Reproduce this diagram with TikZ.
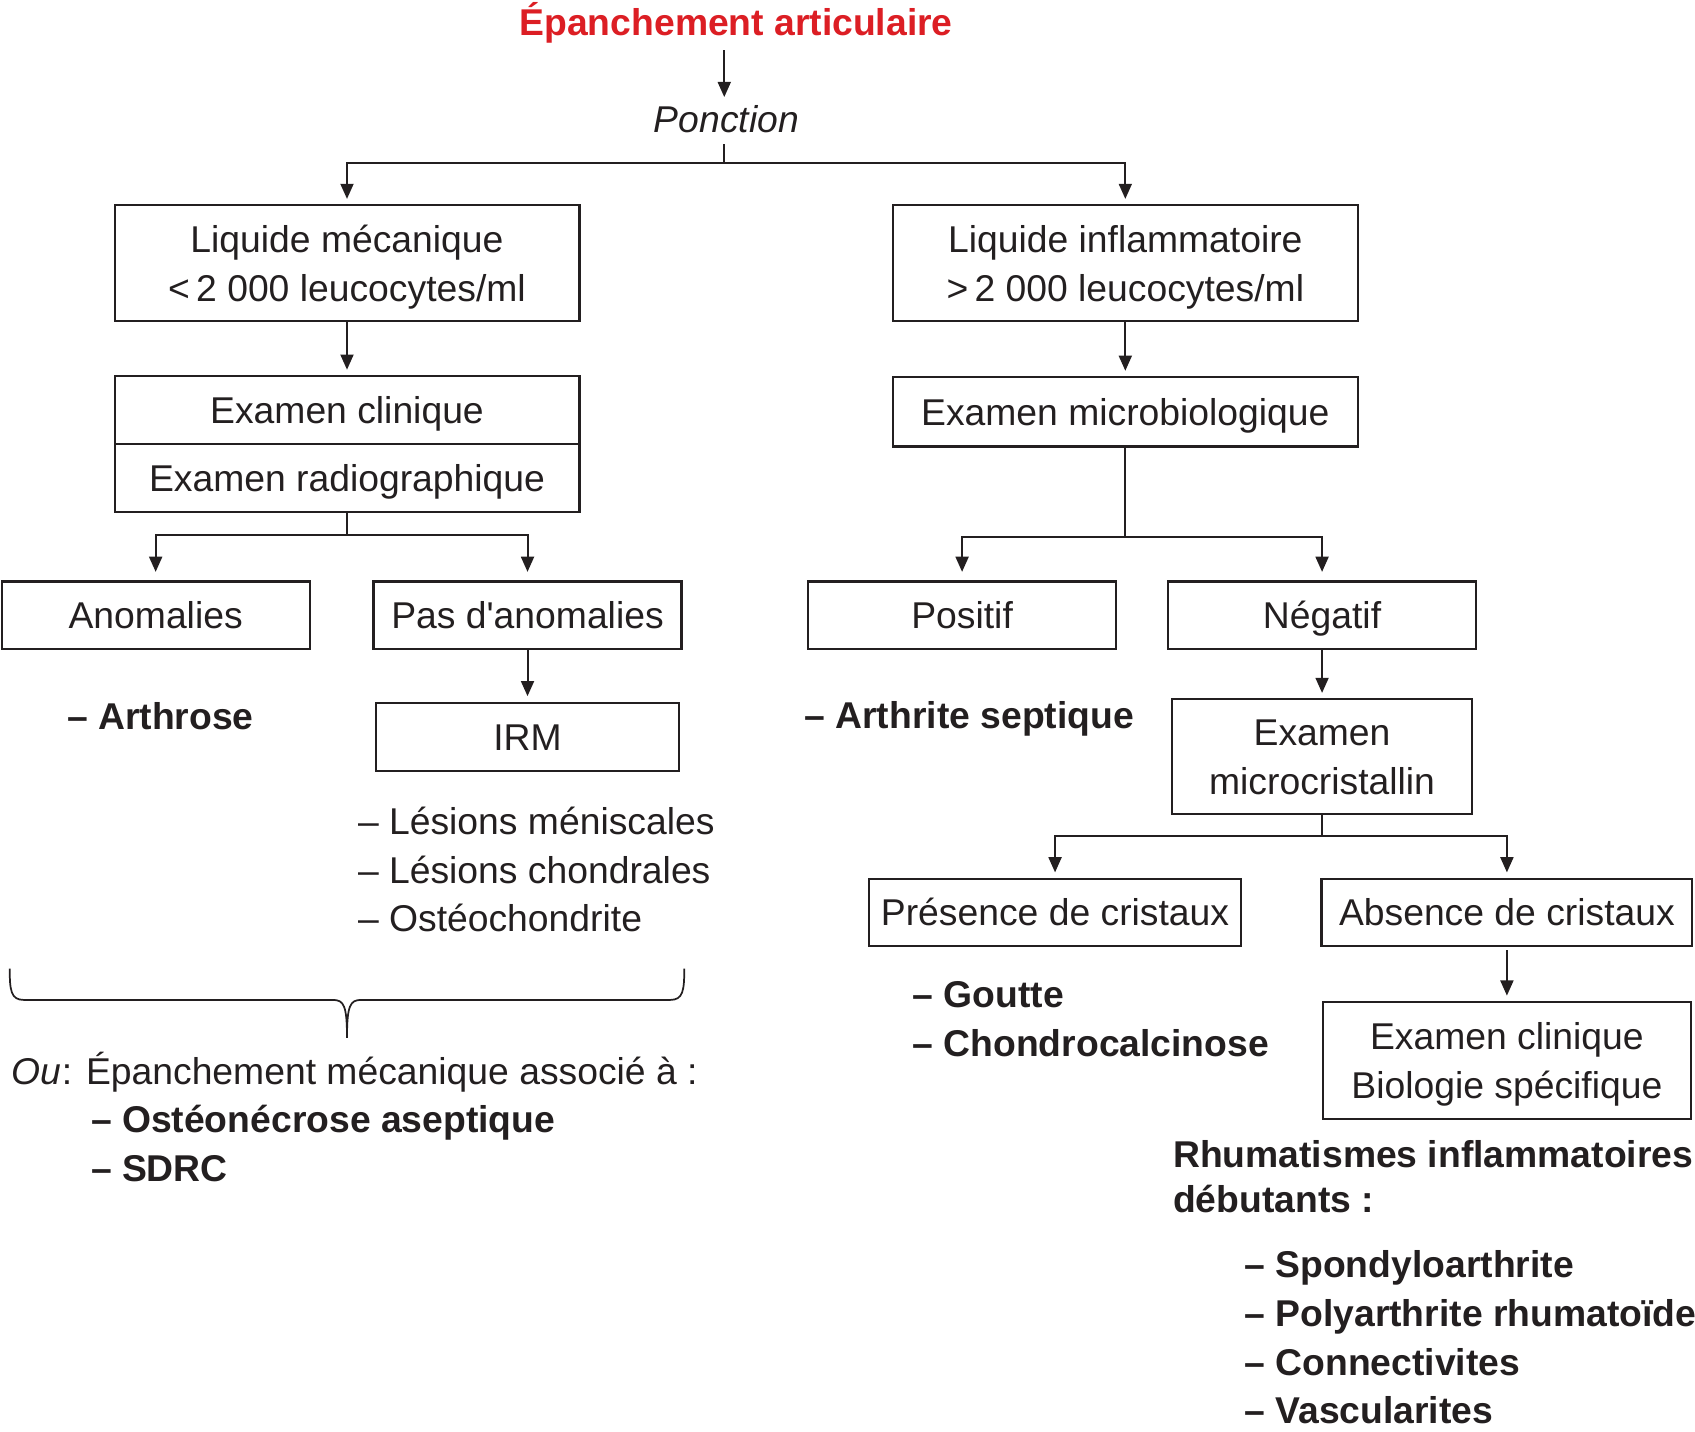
\documentclass[tikz,border=0pt]{standalone}
\usepackage{fontspec}
\setmainfont{Liberation Sans}
\newfontfamily\plainsans{Liberation Sans}
\usetikzlibrary{arrows.meta}
\definecolor{titlered}{RGB}{220,30,36}
\definecolor{ink}{RGB}{35,31,32}
\newcommand{\topstrut}{\rule{0pt}{33pt}}
\newcommand{\botstrut}{\rule[-8pt]{0pt}{8pt}}
\begin{document}
\begin{tikzpicture}[x=1pt,y=-1pt,
  every node/.style={font=\fontsize{34.5}{45}\selectfont, inner sep=0pt, text=ink},
  box/.style={draw=ink, line width=2pt, align=center},
  onebox/.style={box, text height=33pt, text depth=8pt},
  lbl/.style={anchor=base west},
  blbl/.style={anchor=base west, font=\fontsize{34.5}{45}\selectfont\bfseries},
  conn/.style={draw=ink, line width=1.8pt},
  arr/.style={conn, -{Triangle[length=14pt,width=12pt]}, shorten >=5pt}]
\useasboundingbox (0,0) rectangle (1568,1324);

% top
\node[anchor=base, font=\fontsize{34.5}{45}\selectfont\bfseries, text=titlered] (t) at (681,33) {Épanchement articulaire};
\node[anchor=base] (p) at (672,123) {\itshape Ponction};
\coordinate (jp) at (670,151);

% level 1
\node[box, minimum width=430, minimum height=107] (A) at (321,243.5) {\topstrut Liquide mécanique\\<\,2 000 leucocytes/ml\botstrut};
\node[box, minimum width=430, minimum height=107] (B) at (1041,243.5) {\topstrut Liquide inflammatoire\\>\,2 000 leucocytes/ml\botstrut};

% level 2
\node[onebox, minimum width=430, minimum height=63] (C1) at (321,379.5) {Examen clinique};
\node[onebox, minimum width=430, minimum height=63] (C2) at (321,442.5) {Examen radiographique};
\node[onebox, minimum width=430, minimum height=64] (D) at (1041,381) {Examen microbiologique};
\coordinate (jc) at (321,495);
\coordinate (jd) at (1041,497);

% level 3
\node[onebox, minimum width=285, minimum height=62] (E) at (144,569) {Anomalies};
\node[onebox, minimum width=285, minimum height=62] (F) at (488,569) {Pas d{\plainsans'}anomalies};
\node[onebox, minimum width=285, minimum height=62] (G) at (890,569) {Positif};
\node[onebox, minimum width=285, minimum height=62] (H) at (1223,569) {Négatif};

\node[onebox, minimum width=281, minimum height=63] (IRM) at (488,681.5) {IRM};
\node[box, minimum width=278, minimum height=106] (M) at (1223,700) {\topstrut Examen\\microcristallin\botstrut};
\coordinate (jm) at (1223,773);

\node[onebox, minimum width=344, minimum height=62] (P) at (976,844) {Présence de cristaux};
\node[onebox, minimum width=343, minimum height=62] (Q) at (1394,844) {Absence de cristaux};
\node[box, minimum width=341, minimum height=108] (R) at (1394,981) {\topstrut Examen clinique\\Biologie spécifique\botstrut};

% texts
\node[blbl] (arth) at (62,675) {– Arthrose};
\node[blbl] (septic) at (744,674) {– Arthrite septique};
\node[lbl] (l1) at (331,772) {– Lésions méniscales};
\node[lbl] (l2) at (331,817) {– Lésions chondrales};
\node[lbl] (l3) at (331,862) {– Ostéochondrite};
\node[lbl] (ou) at (10,1003) {{\itshape Ou}\kern1pt: Épanchement mécanique associé à :};
\node[blbl] (osteo) at (84,1048) {– Ostéonécrose aseptique};
\node[blbl] (sdrc) at (84,1093) {– SDRC};
\node[blbl] (gout) at (844,932) {– Goutte};
\node[blbl] (chondro) at (844,977) {– Chondrocalcinose};
\node[blbl] (rh1) at (1085,1080) {Rhumatismes inflammatoires};
\node[blbl] (rh2) at (1085,1122) {débutants :};
\node[blbl] (s1) at (1151,1182) {– Spondyloarthrite};
\node[blbl] (s2) at (1151,1227) {– Polyarthrite rhumatoïde};
\node[blbl] (s3) at (1151,1272) {– Connectivites};
\node[blbl] (s4) at (1151,1317) {– Vascularites};

% connectors
\draw[arr, shorten <=6pt, shorten >=8pt] (t.south -| jp) -- (jp |- p.north);
\draw[conn, shorten <=10pt] (jp |- p.south) -- (jp);
\draw[arr] (jp) -| (A.north);
\draw[arr] (jp) -| (B.north);
\draw[arr] (A.south) -- (C1.north);
\draw[arr] (B.south) -- (D.north);
\draw[conn] (C2.south) -- (jc);
\draw[arr, shorten >=8pt] (jc) -| (E.north);
\draw[arr, shorten >=8pt] (jc) -| (F.north);
\draw[conn] (D.south) -- (jd);
\draw[arr, shorten >=8pt] (jd) -| (G.north);
\draw[arr, shorten >=8pt] (jd) -| (H.north);
\draw[arr] (F.south) -- (IRM.north);
\draw[arr] (H.south) -- (M.north);
\draw[conn] (M.south) -- (jm);
\draw[arr] (jm) -| (P.north);
\draw[arr] (jm) -| (Q.north);
\draw[arr, shorten <=3pt] (Q.south) -- (R.north);

% brace
\draw[conn, line width=1.6pt] (9,896) .. controls (9,916) and (10,925) .. (22,925) -- (308,925) .. controls (318,925) and (321,930) .. (321,960);
\draw[conn, line width=1.6pt] (633,896) .. controls (633,916) and (632,925) .. (620,925) -- (334,925) .. controls (324,925) and (321,930) .. (321,960);
\end{tikzpicture}
\end{document}
